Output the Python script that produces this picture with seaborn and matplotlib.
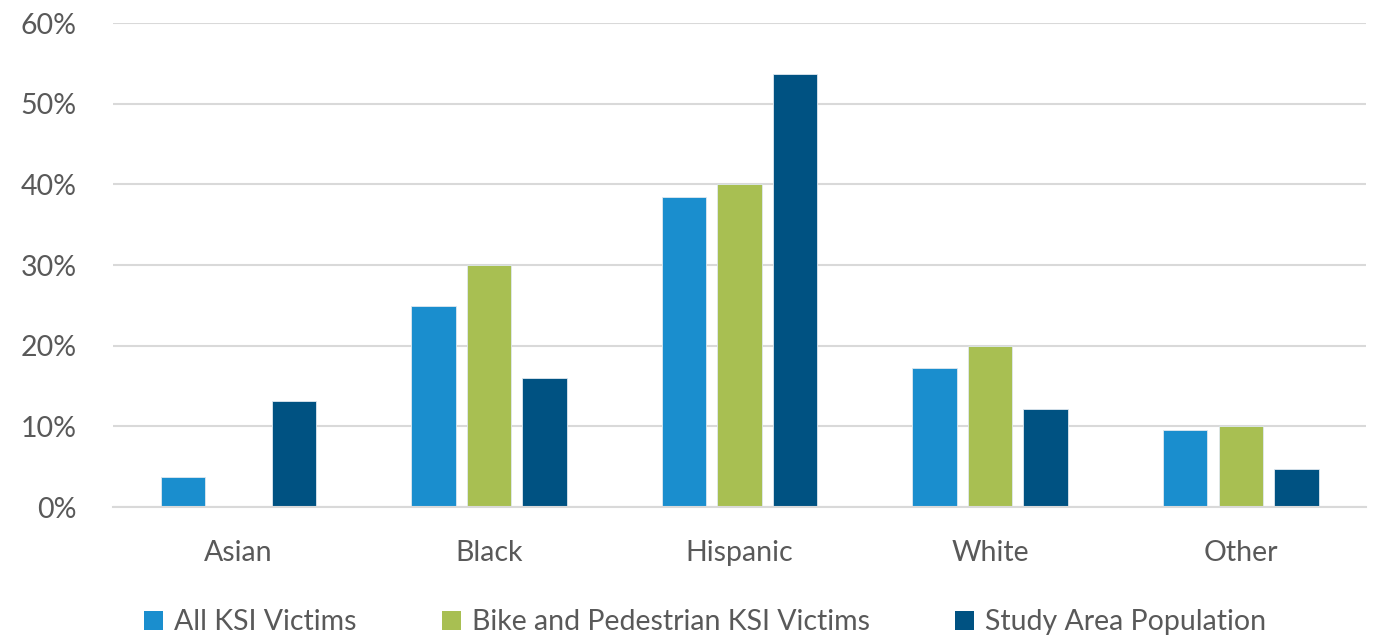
import matplotlib
matplotlib.use("Agg")
import matplotlib.pyplot as plt
import seaborn as sns
import pandas as pd
from matplotlib.ticker import FuncFormatter
from matplotlib.patches import Patch

categories = ["Asian", "Black", "Hispanic", "White", "Other"]
all_ksi = [3.7, 24.9, 38.4, 17.2, 9.5]
bike_ped = [0.0, 30.0, 40.0, 20.0, 10.0]
study_pop = [13.2, 16.0, 53.7, 12.1, 4.7]
series_names = ["All KSI Victims", "Bike and Pedestrian KSI Victims", "Study Area Population"]
colors = ["#1A8ECE", "#A8BF52", "#005282"]
yticks = [0, 10, 20, 30, 40, 50, 60]

rows = []
for name, vals in zip(series_names, [all_ksi, bike_ped, study_pop]):
    for c, v in zip(categories, vals):
        rows.append({"cat": c, "series": name, "value": v})
df = pd.DataFrame(rows)

sns.set_theme(style="white")
plt.rcParams["font.family"] = ["Lato", "DejaVu Sans"]
text_color = "#595959"

fig = plt.figure(figsize=(13.75, 6.36), dpi=100)
ax = fig.add_axes([0.0822, 0.2028, 0.9113, 0.761])

sns.barplot(data=df, x="cat", y="value", hue="series", order=categories,
            hue_order=series_names, palette=colors, width=0.665, gap=0.2,
            edgecolor="#dfe8ef", linewidth=0.6, saturation=1, ax=ax, legend=False)

ax.set_ylim(0, 60)
ax.set_xlim(-0.5, 4.5)
ax.set_yticks(yticks)
ax.yaxis.set_major_formatter(FuncFormatter(lambda v, p: f"{int(v)}%"))
ax.grid(axis="y", color="#d9d9d9", linewidth=1.5)
ax.set_axisbelow(True)
for s in ["top", "right", "left"]:
    ax.spines[s].set_visible(False)
ax.spines["bottom"].set_color("#d9d9d9")
ax.spines["bottom"].set_linewidth(1.5)
ax.tick_params(axis="both", length=0, labelsize=20.5, colors=text_color)
ax.tick_params(axis="y", pad=26)
ax.tick_params(axis="x", pad=24)
ax.set_xlabel("")
ax.set_ylabel("")

handles = [Patch(facecolor=c, edgecolor="none") for c in colors]
fig.legend(handles, series_names, loc="center", bbox_to_anchor=(0.513, 0.022),
           ncol=3, frameon=False, fontsize=20.5, labelcolor=text_color,
           handlelength=0.65, handleheight=0.65, handletextpad=0.4, columnspacing=3.0)

fig.savefig("out.png", dpi=100, facecolor="white")
